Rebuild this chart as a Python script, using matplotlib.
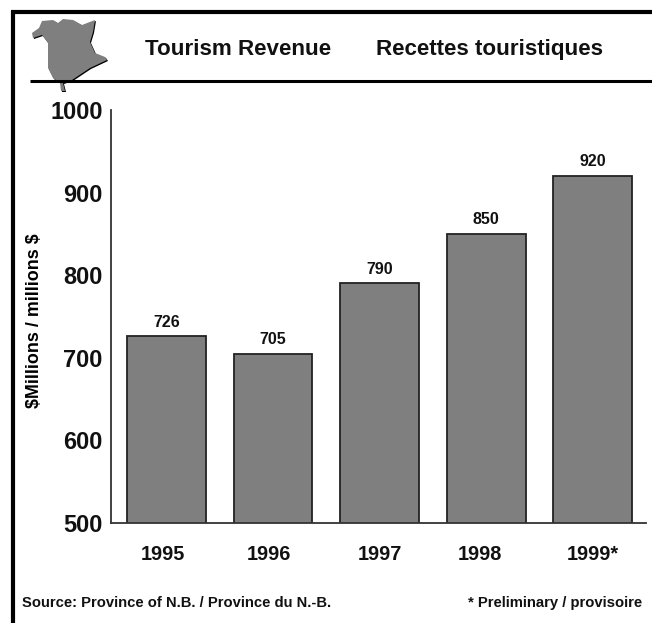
import numpy as np
import matplotlib
matplotlib.use("Agg")
import matplotlib.pyplot as plt
from matplotlib.patches import Polygon
from matplotlib.transforms import ScaledTranslation

years = ['1995', '1996', '1997', '1998', '1999*']
revenue = [726, 705, 790, 850, 920]
yticks = [500, 600, 700, 800, 900, 1000]

# outline of the province, in pixels of the image
map_x = [32, 39, 42, 53, 58, 63, 73, 82, 95, 93, 90, 95, 105, 107, 90, 72, 63, 65, 61, 60, 53, 48, 48, 42, 33]
map_y = [33, 28, 21, 20, 23, 19, 20, 25, 20, 32, 42, 53, 57, 60, 68, 80, 83, 91, 91, 83, 78, 68, 43, 35, 38]

W, H = 652, 623
plt.rcParams['font.family'] = ['Liberation Sans', 'DejaVu Sans']
plt.rcParams['font.weight'] = 'bold'

fig = plt.figure(figsize=(W / 100, H / 100), dpi=100)
ax = fig.add_axes([111 / W, 1 - 523 / H, (646 - 111) / W, (523 - 110) / H])

x = np.arange(len(years))
bars = ax.bar(x, revenue, width=0.74, bottom=0, color='#7f7f7f', edgecolor='#222222', linewidth=1.3)
for xi, v in zip(x, revenue):
    ax.text(xi, v + 8, str(v), ha='center', va='bottom', fontsize=11.5, color='#111111')

ax.set_xlim(-0.521, 4.5)
ax.set_ylim(500, 1000)
ax.set_yticks(yticks)
ax.set_yticklabels([str(t) for t in yticks], fontsize=17, color='#111111')
ax.set_xticks(x)
ax.set_xticklabels(years, fontsize=14.3, color='#111111')
ax.tick_params(axis='both', length=0)
ax.tick_params(axis='x', pad=16)
ax.tick_params(axis='y', pad=6)
ax.set_ylabel(r'\$Millions / millions \$', fontsize=12.9, fontweight='bold', labelpad=0)
ax.yaxis.set_label_coords((43 - 111) / (646 - 111), 0.489)

# the year labels are not quite centred under their bars in the original
for label, dx in zip(ax.get_xticklabels(), [-4, -4, 0, -6, 0]):
    label.set_transform(label.get_transform() + ScaledTranslation(dx / 100, 0, fig.dpi_scale_trans))

for s in ['top', 'right']:
    ax.spines[s].set_visible(False)
for s in ['left', 'bottom']:
    ax.spines[s].set_linewidth(1.3)
    ax.spines[s].set_color('#333333')

# page furniture, drawn in pixels
page = fig.add_axes([0, 0, 1, 1], zorder=5)
page.set_xlim(0, W)
page.set_ylim(H, 0)
page.axis('off')
page.plot([12.5, 12.5], [11, H], color='black', lw=3, solid_capstyle='butt')
page.plot([11, W], [12, 12], color='black', lw=3, solid_capstyle='butt')
page.plot([30, W], [80.5, 80.5], color='black', lw=2.2, solid_capstyle='butt')

pts = np.column_stack([map_x, map_y])
page.add_patch(Polygon(pts + [1, 1], closed=True, color='black', lw=0))
page.add_patch(Polygon(pts, closed=True, color='#7f7f7f', lw=0))

page.text(145, 55, 'Tourism Revenue', fontsize=16.1, va='baseline', ha='left', color='#111111')
page.text(376, 55, 'Recettes touristiques', fontsize=16.1, va='baseline', ha='left', color='#111111')
page.text(22, 603, 'Source: Province of N.B. / Province du N.-B.', fontsize=10.6, va='center', ha='left', color='#111111')
page.text(642, 603, '* Preliminary / provisoire', fontsize=10.7, va='center', ha='right', color='#111111')

fig.savefig('out.png', dpi=100, facecolor='white')
